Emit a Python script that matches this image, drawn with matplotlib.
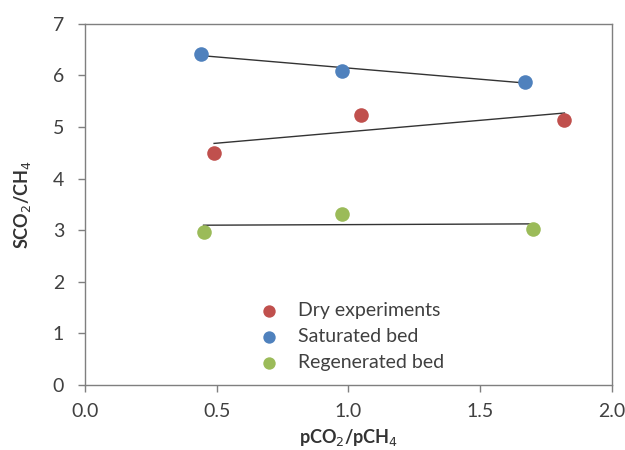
import numpy as np
import matplotlib.pyplot as plt

plt.rcParams['font.family'] = ['Lato', 'DejaVu Sans']

# data
dry_x = [0.49, 1.048, 1.82]
dry_y = [4.50, 5.24, 5.14]
sat_x = [0.44, 0.975, 1.67]
sat_y = [6.42, 6.09, 5.88]
reg_x = [0.45, 0.975, 1.70]
reg_y = [2.97, 3.32, 3.03]

series = [
    ("Dry experiments", dry_x, dry_y, "#C0504D"),
    ("Saturated bed", sat_x, sat_y, "#4F81BD"),
    ("Regenerated bed", reg_x, reg_y, "#9BBB59"),
]

fig = plt.figure(figsize=(6.25, 4.5), dpi=100)
ax = fig.add_axes([0.136, 0.145, 0.843, 0.802])

for label, xs, ys, col in series:
    ax.scatter(xs, ys, s=110, color=col, label=label, zorder=3, linewidths=0)
    # linear trendline over the data range
    k, b = np.polyfit(xs, ys, 1)
    xl = np.array([min(xs), max(xs)])
    ax.plot(xl, k * xl + b, color="#333333", lw=1.0, zorder=2)

ax.set_xlim(0, 2.0)
ax.set_ylim(0, 7)
ax.set_xticks(np.arange(0, 2.01, 0.5))
ax.set_xticklabels(["0.0", "0.5", "1.0", "1.5", "2.0"])
ax.set_yticks(range(0, 8))
ax.tick_params(direction="out", length=5, width=1, colors="#7f7f7f",
               labelcolor="#404040", labelsize=14)
ax.tick_params(axis="y", pad=10)
ax.tick_params(axis="x", pad=8)
for sp in ax.spines.values():
    sp.set_color("#7f7f7f")
    sp.set_linewidth(1)

ax.set_xlabel("pCO$_2$/pCH$_4$", fontsize=13, fontweight="bold", color="#333333", labelpad=5)
ax.set_ylabel("SCO$_2$/CH$_4$", fontsize=13, fontweight="bold", color="#333333", labelpad=14)

ax.legend(loc="lower center", bbox_to_anchor=(0.497, -0.01), frameon=False,
          fontsize=14, handletextpad=0.5, labelspacing=0.45,
          markerscale=0.85, labelcolor="#404040")

fig.savefig("out.png", dpi=100)
